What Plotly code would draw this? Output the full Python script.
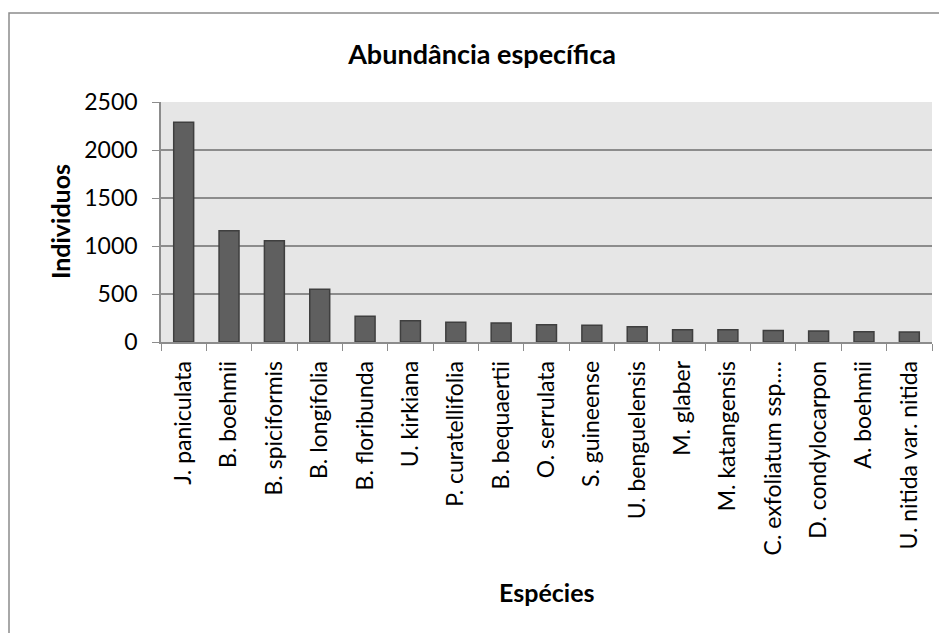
import plotly.graph_objects as go

# species and counts
species = ["J. paniculata", "B. boehmii", "B. spiciformis", "B. longifolia",
           "B. floribunda", "U. kirkiana", "P. curatellifolia", "B. bequaertii",
           "O. serrulata", "S. guineense", "U. benguelensis", "M. glaber",
           "M. katangensis", "C. exfoliatum ssp.…", "D. condylocarpon",
           "A. boehmii", "U. nitida var. nitida"]
individuos = [2290, 1160, 1055, 550, 268, 222, 205, 198, 180, 174, 160,
              128, 128, 121, 115, 107, 104]
y_ticks = [0, 500, 1000, 1500, 2000, 2500]

# page body adds an 8px margin, so the figure is a bit smaller than the window
W, H = 939, 625
L, R, T, B = 153, 15, 94, 291
PW, PH = W - L - R, H - T - B
FONT = "Lato, Open Sans, sans-serif"

fig = go.Figure()
fig.add_trace(go.Bar(x=species, y=individuos,
                     marker=dict(color="#5f5f5f", line=dict(color="#3f3f3f", width=1.5))))

fig.update_layout(
    width=W, height=H,
    margin=dict(l=L, r=R, t=T, b=B),
    paper_bgcolor="white",
    plot_bgcolor="#e6e6e6",
    bargap=0.56,
    showlegend=False,
    font=dict(family=FONT, size=23, color="black"),
    title=dict(text="<b>Abundância específica</b>", x=474 / W, xanchor="center",
               y=1 - 47 / H, yanchor="middle", font=dict(size=27)),
)

fig.update_xaxes(tickangle=-90, tickson="boundaries", ticks="outside", ticklen=7,
                 tickcolor="#8c8c8c", showline=True, linecolor="#8c8c8c",
                 linewidth=1.5, showgrid=False, tickfont=dict(size=23),
                 ticklabelstandoff=8)
fig.update_yaxes(range=[0, 2500], tickvals=y_ticks, ticks="outside", ticklen=7,
                 tickcolor="#8c8c8c", showline=True, linecolor="#8c8c8c",
                 linewidth=1.5, gridcolor="#8c8c8c", gridwidth=1.5,
                 zeroline=False, tickfont=dict(size=23), ticklabelstandoff=10)

# axis titles
fig.add_annotation(text="<b>Espécies</b>", xref="paper", yref="paper",
                   x=0.5, y=-(584 - (H - B)) / PH, showarrow=False,
                   xanchor="center", yanchor="middle", font=dict(size=25))
fig.add_annotation(text="<b>Individuos</b>", xref="paper", yref="paper",
                   x=-(L - 52) / PW, y=0.5, showarrow=False, textangle=-90,
                   xanchor="center", yanchor="middle", font=dict(size=25))

# chart border (cropped on the right and bottom)
fig.add_shape(type="rect", xref="paper", yref="paper",
              x0=-(L - 1) / PW, x1=1.1,
              y0=-3, y1=1 + (T - 5) / PH,
              line=dict(color="#8c8c8c", width=1.5), layer="below")

fig.write_html("out.html")
